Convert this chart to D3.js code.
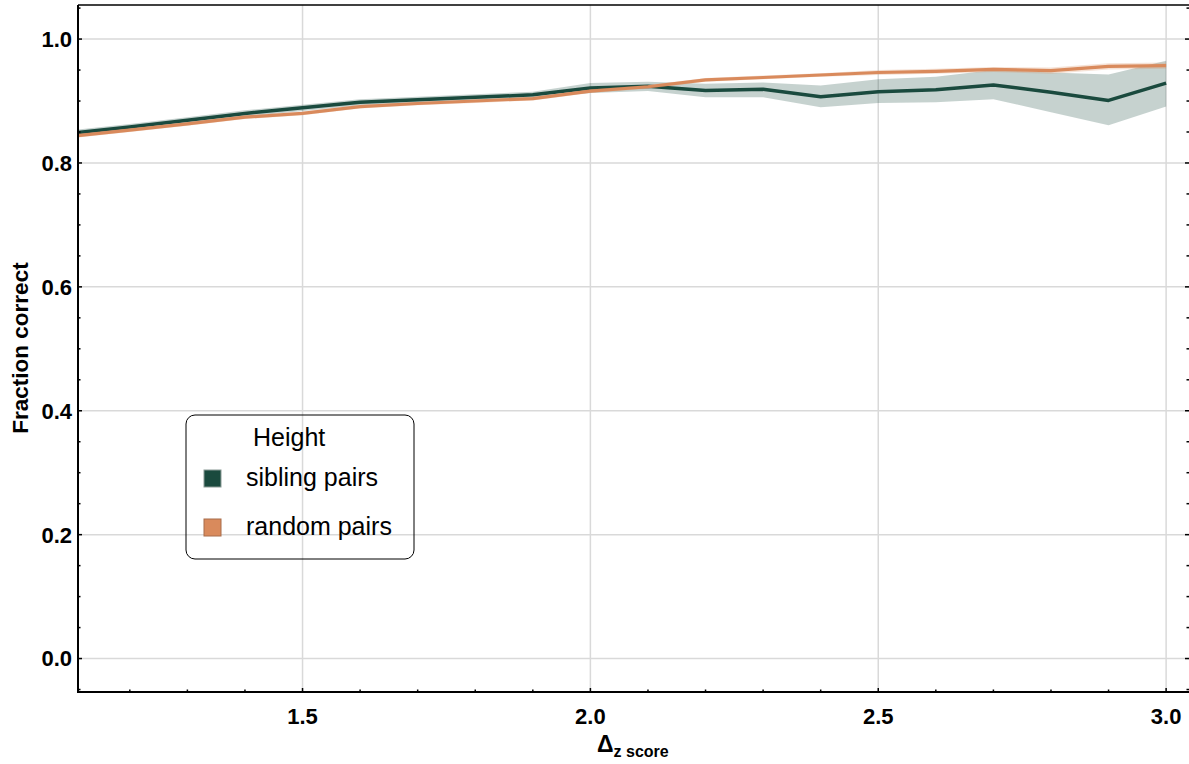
<!DOCTYPE html>
<html><head><meta charset="utf-8">
<script src="https://cdn.jsdelivr.net/npm/d3@7"></script>
<style>body{margin:0;background:#fff}svg{display:block}text{font-family:"Liberation Sans",Arial,sans-serif}</style>
</head><body>
<svg id="c" width="1189" height="764"></svg>
<script>
const xs = [1.1,1.2,1.3,1.4,1.5,1.6,1.7,1.8,1.9,2.0,2.1,2.2,2.3,2.4,2.5,2.6,2.7,2.8,2.9,3.0];
const sibling     = [0.848,0.858,0.869,0.880,0.889,0.898,0.902,0.906,0.910,0.921,0.924,0.917,0.919,0.907,0.915,0.918,0.926,0.914,0.901,0.929];
const siblingLow  = [0.843,0.853,0.864,0.875,0.884,0.893,0.897,0.901,0.905,0.913,0.916,0.906,0.906,0.890,0.897,0.898,0.903,0.882,0.861,0.891];
const siblingHigh = [0.853,0.863,0.874,0.885,0.894,0.903,0.907,0.911,0.915,0.929,0.931,0.928,0.930,0.925,0.935,0.939,0.950,0.946,0.943,0.965];
const random      = [0.843,0.853,0.863,0.874,0.880,0.891,0.896,0.900,0.904,0.916,0.923,0.934,0.938,0.942,0.946,0.948,0.951,0.949,0.956,0.957];
const randomLow   = [0.840,0.850,0.860,0.871,0.877,0.888,0.893,0.897,0.901,0.913,0.920,0.931,0.935,0.939,0.942,0.944,0.947,0.944,0.951,0.952];
const randomHigh  = [0.846,0.856,0.866,0.877,0.883,0.894,0.899,0.903,0.907,0.919,0.926,0.937,0.941,0.945,0.950,0.952,0.955,0.954,0.961,0.962];
const xMajor = [1.5,2.0,2.5,3.0];
const xMinor = [1.2,1.3,1.4,1.6,1.7,1.8,1.9,2.1,2.2,2.3,2.4,2.6,2.7,2.8,2.9];
const yMajor = [0.0,0.2,0.4,0.6,0.8,1.0];
const yMinor = [-0.05,0.05,0.1,0.15,0.25,0.3,0.35,0.45,0.5,0.55,0.65,0.7,0.75,0.85,0.9,0.95,1.05];
const legendTitle = "Height";
const seriesNames = ["sibling pairs","random pairs"];
const colors = ["#1a4a3e","#d98a5c"];

const svg = d3.select("#c");
const L=78, R=1189, T=5, B=692;
const x = d3.scaleLinear().domain([1.11,3.038]).range([L,1188]);
const y = d3.scaleLinear().domain([-0.054,1.055]).range([B,T]);

svg.append("defs").append("clipPath").attr("id","clip")
  .append("rect").attr("x",L).attr("y",T).attr("width",R-L).attr("height",B-T);

// grid
const grid = svg.append("g").attr("stroke","#d9d9d9").attr("stroke-width",1.5);
grid.selectAll(".gx").data(xMajor).join("line")
  .attr("x1",d=>x(d)).attr("x2",d=>x(d)).attr("y1",T).attr("y2",B);
grid.selectAll(".gy").data(yMajor).join("line")
  .attr("y1",d=>y(d)).attr("y2",d=>y(d)).attr("x1",L).attr("x2",R);

const plot = svg.append("g").attr("clip-path","url(#clip)");
const idx = d3.range(xs.length);
const area = (lo,hi)=>d3.area().x(i=>x(xs[i])).y0(i=>y(lo[i])).y1(i=>y(hi[i]));
const line = (v)=>d3.line().x(i=>x(xs[i])).y(i=>y(v[i]));

plot.append("path").attr("d",area(siblingLow,siblingHigh)(idx)).attr("fill",colors[0]).attr("fill-opacity",0.25);
plot.append("path").attr("d",line(sibling)(idx)).attr("fill","none").attr("stroke",colors[0]).attr("stroke-width",3.5).attr("stroke-linejoin","round");
plot.append("path").attr("d",area(randomLow,randomHigh)(idx)).attr("fill",colors[1]).attr("fill-opacity",0.25);
plot.append("path").attr("d",line(random)(idx)).attr("fill","none").attr("stroke",colors[1]).attr("stroke-width",3.2).attr("stroke-linejoin","round");

// axes frame
svg.append("line").attr("x1",L).attr("x2",L).attr("y1",T).attr("y2",B+1).attr("stroke","#000").attr("stroke-width",2);
svg.append("line").attr("x1",L-1).attr("x2",R).attr("y1",B).attr("y2",B).attr("stroke","#000").attr("stroke-width",2);
svg.append("line").attr("x1",L).attr("x2",R).attr("y1",T).attr("y2",T).attr("stroke","#000").attr("stroke-width",1.5);

// ticks (inward)
const tk = svg.append("g").attr("stroke","#000").attr("stroke-width",1.5);
tk.selectAll(".ymaj").data(yMajor).join("line").attr("x1",L).attr("x2",L+4).attr("y1",d=>y(d)).attr("y2",d=>y(d));
tk.selectAll(".ymin").data(yMinor).join("line").attr("x1",L).attr("x2",L+2.5).attr("y1",d=>y(d)).attr("y2",d=>y(d));
tk.selectAll(".ymajr").data(yMajor).join("line").attr("x1",1189).attr("x2",1185).attr("y1",d=>y(d)).attr("y2",d=>y(d));
tk.selectAll(".yminr").data(yMinor).join("line").attr("x1",1189).attr("x2",1186.5).attr("y1",d=>y(d)).attr("y2",d=>y(d));
tk.selectAll(".xmaj").data(xMajor).join("line").attr("x1",d=>x(d)).attr("x2",d=>x(d)).attr("y1",B).attr("y2",B-4);
tk.selectAll(".xmin").data(xMinor).join("line").attr("x1",d=>x(d)).attr("x2",d=>x(d)).attr("y1",B).attr("y2",B-2.5);

// tick labels
const fmt = d3.format(".1f");
svg.append("g").selectAll("text").data(yMajor).join("text")
  .attr("x",72).attr("y",d=>y(d)).attr("dy","0.36em").attr("text-anchor","end")
  .attr("font-size",22).attr("font-weight","bold").text(fmt);
svg.append("g").selectAll("text").data(xMajor).join("text")
  .attr("x",d=>x(d)).attr("y",724).attr("text-anchor","middle")
  .attr("font-size",22).attr("font-weight","bold").text(fmt);

// axis titles
svg.append("text").attr("transform","translate(28,348) rotate(-90)").attr("text-anchor","middle")
  .attr("font-size",22.5).attr("font-weight","bold").text("Fraction correct");
const xl = svg.append("text").attr("x",597).attr("y",752).attr("font-weight","bold");
xl.append("tspan").attr("font-size",23).text("Δ");
xl.append("tspan").attr("font-size",16).attr("dy",5).text("z score");

// legend
const lg = svg.append("g");
lg.append("rect").attr("x",186).attr("y",415).attr("width",228).attr("height",144).attr("rx",9)
  .attr("fill","none").attr("stroke","#000").attr("stroke-width",1);
lg.append("text").attr("x",253).attr("y",446).attr("font-size",25).text(legendTitle);
seriesNames.forEach((n,i)=>{
  const yy = 470 + i*49;
  lg.append("rect").attr("x",204).attr("y",yy).attr("width",17).attr("height",17)
    .attr("fill",colors[i]).attr("stroke",i?"#a86c4a":"#8a9a95").attr("stroke-width",1);
  lg.append("text").attr("x",246).attr("y",yy+16).attr("font-size",25).text(n);
});
</script>
</body></html>
